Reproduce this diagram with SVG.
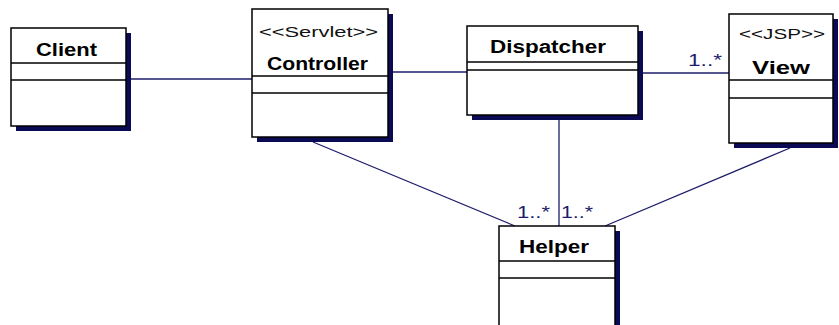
<svg xmlns="http://www.w3.org/2000/svg" width="839" height="325" viewBox="0 0 839 325">
<style>
.shadow{fill:#0a0a55}
.box{fill:#fff;stroke:#000;stroke-width:1.5}
.div{stroke:#000;stroke-width:1.5}
.name{font-family:"Liberation Sans",Arial,sans-serif;font-weight:bold;font-size:18px;fill:#000;text-anchor:middle}
.st{font-family:"Liberation Sans",Arial,sans-serif;font-size:14px;fill:#111;text-anchor:middle}
.conn{stroke:#1c1c6a;stroke-width:1.3;fill:none}
.mult{font-family:"Liberation Sans",Arial,sans-serif;font-size:16px;fill:#1c1c6a}
</style>
<rect width="839" height="325" fill="#fff"/>
<g id="connectors">
<line class="conn" x1="131" y1="79" x2="252" y2="79"/>
<line class="conn" x1="393" y1="72" x2="467" y2="72"/>
<line class="conn" x1="643" y1="73" x2="729" y2="73"/>
<line class="conn" x1="559" y1="120" x2="559" y2="226"/>
<line class="conn" x1="313" y1="142" x2="515" y2="226"/>
<line class="conn" x1="790" y1="148" x2="605" y2="226"/>
<text class="mult" x="688" y="66" textLength="34" lengthAdjust="spacingAndGlyphs">1..*</text>
<text class="mult" x="517" y="218" textLength="33" lengthAdjust="spacingAndGlyphs">1..*</text>
<text class="mult" x="561" y="218" textLength="32" lengthAdjust="spacingAndGlyphs">1..*</text>
</g>
<g id="client">
<rect class="shadow" x="16" y="33" width="115" height="98"/>
<rect class="box" x="11" y="28" width="115" height="98"/>
<line class="div" x1="11" y1="63" x2="126" y2="63"/>
<line class="div" x1="11" y1="80" x2="126" y2="80"/>
<text class="name" x="66.5" y="56" textLength="61" lengthAdjust="spacingAndGlyphs">Client</text>
</g>
<g id="controller">
<rect class="shadow" x="257" y="14" width="136" height="128"/>
<rect class="box" x="252" y="9" width="136" height="128"/>
<line class="div" x1="252" y1="76" x2="388" y2="76"/>
<line class="div" x1="252" y1="93" x2="388" y2="93"/>
<text class="st" x="318.5" y="37" textLength="119" lengthAdjust="spacingAndGlyphs">&lt;&lt;Servlet&gt;&gt;</text>
<text class="name" x="317.5" y="70" textLength="101" lengthAdjust="spacingAndGlyphs">Controller</text>
</g>
<g id="dispatcher">
<rect class="shadow" x="472" y="31" width="171" height="89"/>
<rect class="box" x="467" y="26" width="171" height="89"/>
<line class="div" x1="467" y1="62" x2="638" y2="62"/>
<line class="div" x1="467" y1="70" x2="638" y2="70"/>
<text class="name" x="548" y="53" textLength="116" lengthAdjust="spacingAndGlyphs">Dispatcher</text>
</g>
<g id="view">
<rect class="shadow" x="734" y="19" width="104" height="129"/>
<rect class="box" x="729" y="14" width="104" height="129"/>
<line class="div" x1="729" y1="80" x2="833" y2="80"/>
<line class="div" x1="729" y1="98" x2="833" y2="98"/>
<text class="st" x="782" y="39" textLength="86" lengthAdjust="spacingAndGlyphs">&lt;&lt;JSP&gt;&gt;</text>
<text class="name" x="781" y="74" textLength="58" lengthAdjust="spacingAndGlyphs">View</text>
</g>
<g id="helper">
<rect class="shadow" x="504" y="231" width="116" height="110"/>
<rect class="box" x="499" y="226" width="116" height="110"/>
<line class="div" x1="499" y1="261" x2="615" y2="261"/>
<line class="div" x1="499" y1="278" x2="615" y2="278"/>
<text class="name" x="554" y="253" textLength="70" lengthAdjust="spacingAndGlyphs">Helper</text>
</g>
</svg>
